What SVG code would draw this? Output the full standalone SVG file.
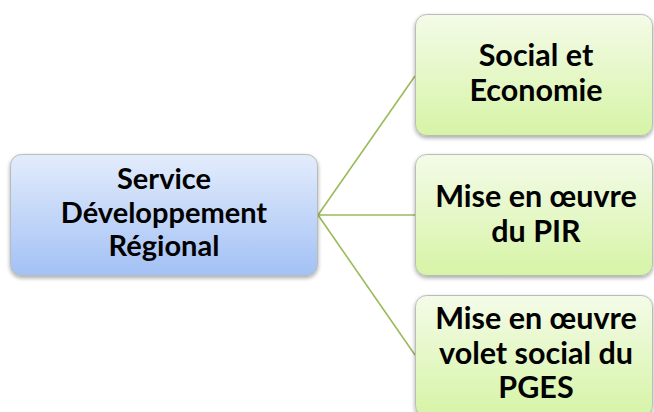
<svg xmlns="http://www.w3.org/2000/svg" width="654" height="412" viewBox="0 0 654 412">
<defs>
<linearGradient id="gBlue" x1="0" y1="0" x2="0" y2="1">
<stop offset="0" stop-color="#e3ecfc"/>
<stop offset="1" stop-color="#a3c1f5"/>
</linearGradient>
<linearGradient id="gGreen" x1="0" y1="0" x2="0" y2="1">
<stop offset="0" stop-color="#f4fbe8"/>
<stop offset="1" stop-color="#d6f4a6"/>
</linearGradient>
<filter id="sh" x="-10%" y="-10%" width="120%" height="130%">
<feGaussianBlur in="SourceAlpha" stdDeviation="2"/>
<feOffset dx="0" dy="2" result="b"/>
<feComponentTransfer><feFuncA type="linear" slope="0.35"/></feComponentTransfer>
<feMerge><feMergeNode/><feMergeNode in="SourceGraphic"/></feMerge>
</filter>
</defs>
<style>
.box{stroke:#b9bdb8;stroke-width:1;filter:url(#sh)}
.blue{fill:url(#gBlue)}
.green{fill:url(#gGreen)}
.t{font-family:Lato,"Liberation Sans",sans-serif;font-weight:bold;font-size:29px;fill:#000;text-anchor:middle}
.r{font-size:30.5px}
.c{stroke:#9bbb59;stroke-width:1.6;fill:none}
</style>
<rect width="654" height="412" fill="#fff"/>
<g id="connectors">
<line class="c" x1="318" y1="215" x2="415" y2="76"/>
<line class="c" x1="318" y1="215" x2="415" y2="215"/>
<line class="c" x1="318" y1="215" x2="415" y2="355"/>
</g>
<g id="n-service">
<rect class="box blue" x="10.5" y="154.5" width="307" height="121" rx="11"/>
<text class="t" x="164" y="189">Service</text>
<text class="t" x="164" y="223">Développement</text>
<text class="t" x="164" y="256">Régional</text>
</g>
<g id="n-social">
<rect class="box green" x="415.5" y="14.5" width="237" height="121" rx="11"/>
<text class="t r" x="536" y="66">Social et</text>
<text class="t r" x="536" y="101">Economie</text>
</g>
<g id="n-pir">
<rect class="box green" x="415.5" y="154.5" width="237" height="121" rx="11"/>
<text class="t r" x="536" y="207">Mise en œuvre</text>
<text class="t r" x="536" y="242">du PIR</text>
</g>
<g id="n-pges">
<rect class="box green" x="415.5" y="295.5" width="237" height="121" rx="11"/>
<text class="t r" x="536" y="329">Mise en œuvre</text>
<text class="t r" x="536" y="364">volet social du</text>
<text class="t r" x="536" y="398">PGES</text>
</g>
</svg>
